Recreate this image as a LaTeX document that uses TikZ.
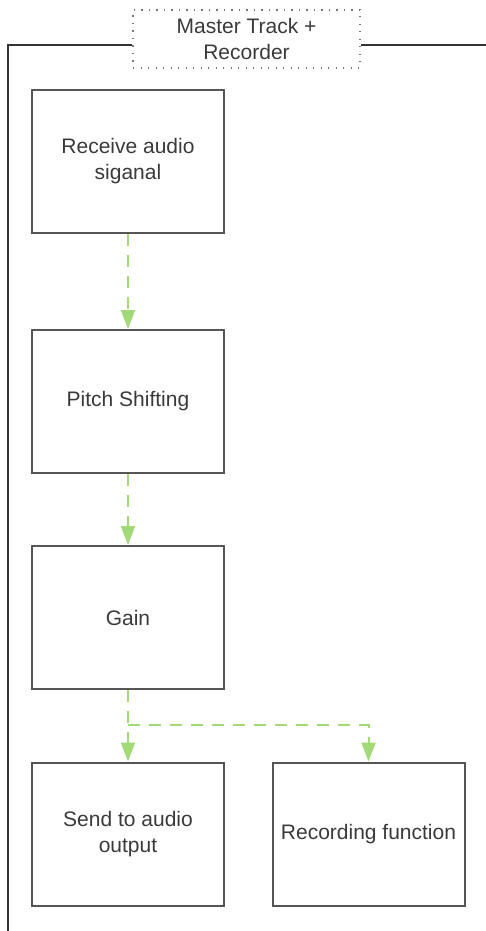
\documentclass[tikz,border=0pt]{standalone}
\usepackage{fontspec}
\setmainfont{Liberation Sans}
\usetikzlibrary{arrows.meta}
\definecolor{boxgray}{HTML}{555555}
\definecolor{framegray}{HTML}{333333}
\definecolor{textgray}{HTML}{3A3A3A}
\definecolor{dotgray}{HTML}{777777}
\definecolor{flowgreen}{HTML}{A3D977}
\begin{document}
\begin{tikzpicture}[x=1pt,y=-1pt,
  box/.style={draw=boxgray, line width=2pt, minimum width=192pt, minimum height=143pt,
    align=center, font=\fontsize{21}{26}\selectfont, text=textgray, inner sep=0pt},
  flow/.style={draw=flowgreen, line width=2pt, dash pattern=on 12pt off 9pt,
    -{Triangle[width=14pt,length=19pt,fill=flowgreen]}},
  frameline/.style={draw=framegray, line width=2pt},
  labelbox/.style={draw=dotgray, line width=1.3pt, dash pattern=on 1.3pt off 6.2pt,
    minimum width=227pt, minimum height=58pt, align=center,
    font=\fontsize{21}{26}\selectfont, text=textgray, inner sep=0pt}]
\useasboundingbox (0,0) rectangle (485,931);
\node[labelbox] (lab) at (246.5,39) {Master Track +\\Recorder};
\draw[frameline] (lab.west |- 0,45) -- (8,45) -- (8,935);
\draw[frameline] (lab.east |- 0,45) -- (490,45);
\node[box] (b1) at (128,161.5) {Receive audio\\siganal};
\node[box] (b2) at (128,401.5) {Pitch Shifting};
\node[box] (b3) at (128,617.5) {Gain};
\node[box] (b4) at (128,834) {Send to audio\\output};
\node[box] (b5) at (368.5,834) {Recording function};
\coordinate (br) at (128,725);
\draw[flow] (b1) -- (b2);
\draw[flow] (b2) -- (b3);
\draw[flow] (b3) -- (b4);
\draw[flow] (br) -| (b5.north);
\end{tikzpicture}
\end{document}
